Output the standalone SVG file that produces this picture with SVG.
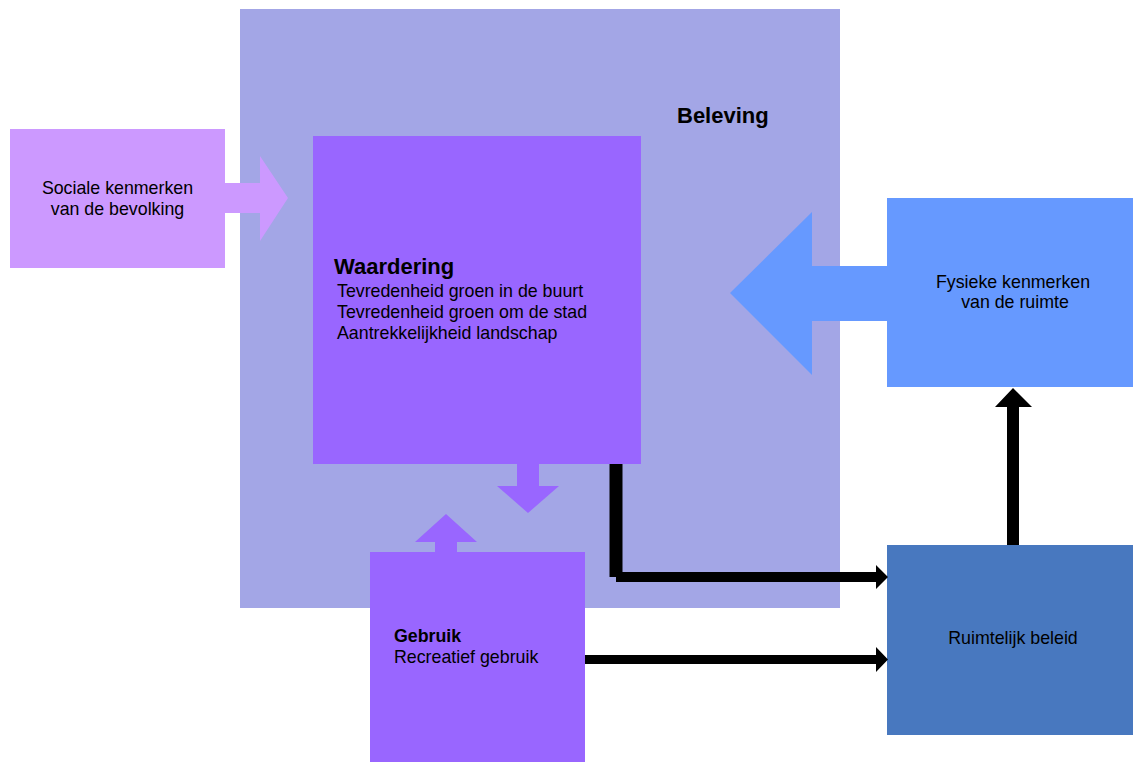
<svg xmlns="http://www.w3.org/2000/svg" width="1133" height="762" viewBox="0 0 1133 762">
  <style>
    text { font-family: "Liberation Sans", Arial, sans-serif; fill: #000; }
    .t { font-size: 17.8px; }
    .b { font-size: 17.8px; font-weight: bold; }
    .h { font-size: 22px; font-weight: bold; }
    .mid { text-anchor: middle; }
    .blk { fill: #000; }
  </style>
  <rect x="0" y="0" width="1133" height="762" fill="#ffffff"/>
  <g id="beleving">
    <rect x="240" y="9" width="600" height="599" fill="#A3A6E6"/>
    <text class="h" x="677" y="123">Beleving</text>
  </g>
  <g id="sociale">
    <rect x="10" y="129" width="215" height="139" fill="#CC99FF"/>
    <text class="t mid" x="117.5" y="194">Sociale kenmerken</text>
    <text class="t mid" x="117.5" y="215">van de bevolking</text>
  </g>
  <g id="waardering">
    <rect x="313" y="136" width="328" height="328" fill="#9966FF"/>
    <text class="h" x="334" y="274">Waardering</text>
    <text class="t" x="337" y="297">Tevredenheid groen in de buurt</text>
    <text class="t" x="337" y="318">Tevredenheid groen om de stad</text>
    <text class="t" x="337" y="339">Aantrekkelijkheid landschap</text>
  </g>
  <g id="gebruik">
    <rect x="370" y="552" width="215" height="210" fill="#9966FF"/>
    <text class="b" x="394" y="642">Gebruik</text>
    <text class="t" x="394" y="663">Recreatief gebruik</text>
  </g>
  <g id="fysieke">
    <rect x="887" y="198" width="246" height="189" fill="#6699FF"/>
    <text class="t mid" x="1013" y="288">Fysieke kenmerken</text>
    <text class="t mid" x="1015" y="308">van de ruimte</text>
  </g>
  <g id="ruimtelijk">
    <rect x="887" y="545" width="246" height="190" fill="#4878BF"/>
    <text class="t mid" x="1013" y="644">Ruimtelijk beleid</text>
  </g>
  <g id="connectors">
    <polygon points="225,183 260,183 260,156 288,198 260,241 260,213 225,213" fill="#CC99FF"/>
    <polygon points="887,266 812,266 812,212 730,293 812,375 812,321 887,321" fill="#6699FF"/>
    <polygon points="517,464 539,464 539,486 559,486 528,513 497,486 517,486" fill="#9966FF"/>
    <polygon points="435,552 457,552 457,542 477,542 446,514 415,542 435,542" fill="#9966FF"/>
    <polygon class="blk" points="609.5,464 622.5,464 622.5,572 876,572 876,565 888,577 876,589 876,582 616,582 616,577 609.5,577"/>
    <polygon class="blk" points="585,655 876,655 876,647 888,659.5 876,672 876,664 585,664"/>
    <polygon class="blk" points="1007,545 1019,545 1019,407 1032,407 1013,388 995,407 1007,407"/>
  </g>
</svg>
